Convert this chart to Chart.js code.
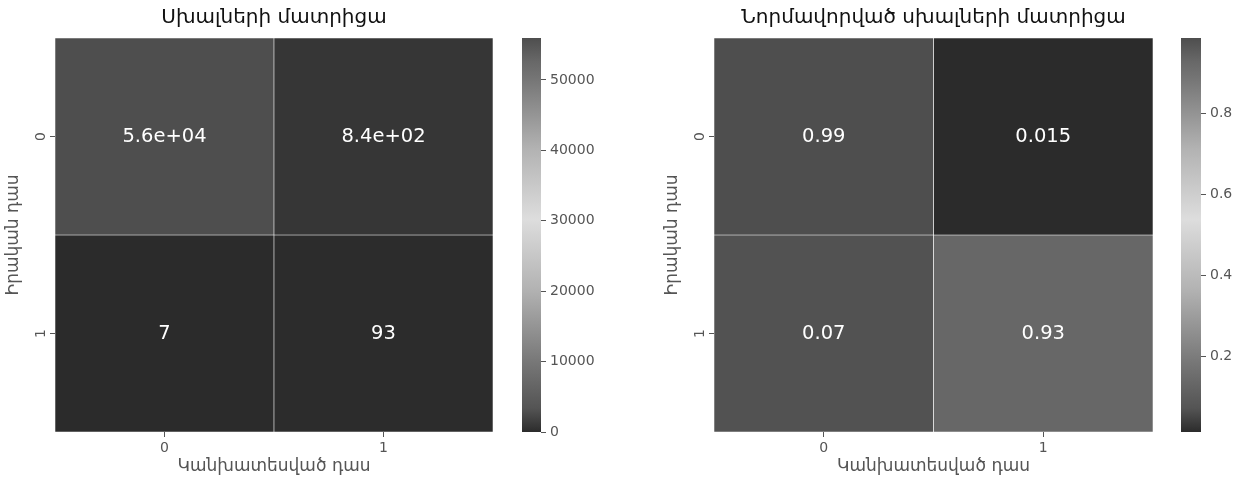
<!DOCTYPE html>
<html>
<head>
<meta charset="utf-8">
<script src="https://cdn.jsdelivr.net/npm/chart.js@4.4.0/dist/chart.umd.min.js"></script>
<style>
  body { margin: 0; background: #fff; width: 1246px; height: 479px; position: relative; overflow: hidden; }
  .box { position: absolute; top: 0; height: 479px; }
</style>
</head>
<body>
<div class="box" style="left:0;width:493px"><canvas id="heatCounts"></canvas></div>
<div class="box" style="left:522px;width:80px"><canvas id="barCounts"></canvas></div>
<div class="box" style="left:659px;width:494px"><canvas id="heatNorm"></canvas></div>
<div class="box" style="left:1181px;width:65px"><canvas id="barNorm"></canvas></div>
<script>
// Confusion matrices
const xLabels = ['0', '1'];
const yLabels = ['0', '1'];
const countValues = [[55960, 840], [7, 93]];
const normValues = [[0.9852, 0.0148], [0.07, 0.93]];
const countTicks = [0, 10000, 20000, 30000, 40000, 50000];
const normTicks = [0.2, 0.4, 0.6, 0.8];

const titleCounts = 'Սխալների մատրիցա';
const titleNorm = 'Նորմավորված սխալների մատրիցա';
const xTitle = 'Կանխատեսված դաս';
const yTitle = 'Իրական դաս';

// gray colormap: dark -> light -> dark
const GRAY_STOPS = [[0, 43], [0.015, 54], [0.06, 84], [0.18, 120], [0.36, 178], [0.54, 221],
                    [0.72, 178], [0.9, 116], [0.94, 104], [1, 78]];
const FONT = '"DejaVu Sans", sans-serif';
const TICK_COLOR = '#555';

function grayAt(t) {
    t = Math.max(0, Math.min(1, t));
    for (let i = 1; i < GRAY_STOPS.length; i++) {
        const [t1, g1] = GRAY_STOPS[i];
        const [t0, g0] = GRAY_STOPS[i - 1];
        if (t <= t1) {
            const g = Math.round(g0 + (g1 - g0) * (t - t0) / (t1 - t0));
            return `rgb(${g},${g},${g})`;
        }
    }
    return 'rgb(78,78,78)';
}

// like python's '.2g'
function fmtG(v) {
    const e = Math.floor(Math.log10(Math.abs(v)));
    if (e < -4 || e >= 2) {
        const [m, ex] = v.toExponential(1).split('e');
        return m + 'e' + ex[0] + ex.slice(1).padStart(2, '0');
    }
    let s = v.toPrecision(2);
    if (s.includes('.')) s = s.replace(/0+$/, '').replace(/\.$/, '');
    return s;
}

function cellLabels(values) {
    return {
        id: 'cellLabels',
        afterDatasetsDraw(chart) {
            const { ctx, scales } = chart;
            ctx.save();
            ctx.fillStyle = '#ffffff';
            ctx.font = '19.5px ' + FONT;
            ctx.textAlign = 'center';
            ctx.textBaseline = 'middle';
            values.forEach((row, r) => row.forEach((v, c) => {
                ctx.fillText(fmtG(v), scales.x.getPixelForValue(c), scales.y.getPixelForValue(r));
            }));
            ctx.restore();
        }
    };
}

function makeHeatmap(id, values, title) {
    const flat = values.flat();
    const vmin = Math.min(...flat);
    const vmax = Math.max(...flat);
    const datasets = values.map((row, r) => ({
        data: row.map(() => [r - 0.5, r + 0.5]),
        backgroundColor: row.map(v => grayAt((v - vmin) / (vmax - vmin))),
        borderColor: '#ffffff',
        borderWidth: 0.6,
        borderSkipped: false,
        barPercentage: 1,
        categoryPercentage: 1,
        grouped: false
    }));
    new Chart(document.getElementById(id), {
        type: 'bar',
        data: { labels: xLabels, datasets: datasets },
        plugins: [cellLabels(values)],
        options: {
            responsive: true,
            maintainAspectRatio: false,
            animation: false,
            layout: { padding: 0 },
            plugins: {
                legend: { display: false },
                tooltip: { enabled: false },
                title: {
                    display: true,
                    text: title,
                    fullSize: false,
                    color: '#111',
                    font: { family: FONT, size: 20, weight: 'normal' },
                    padding: { top: 6, bottom: 8 }
                }
            },
            scales: {
                x: {
                    type: 'category',
                    offset: true,
                    grid: { offset: false, drawOnChartArea: false, tickLength: 5, color: TICK_COLOR },
                    border: { display: false },
                    ticks: { color: TICK_COLOR, font: { family: FONT, size: 14 }, padding: 3 },
                    title: { display: true, text: xTitle, color: TICK_COLOR,
                             font: { family: FONT, size: 17 }, padding: { top: 0, bottom: 2 } },
                    afterFit: s => { s.height = 47; }
                },
                y: {
                    type: 'linear',
                    min: -0.5,
                    max: 1.5,
                    reverse: true,
                    afterBuildTicks: s => { s.ticks = yLabels.map((_, i) => ({ value: i })); },
                    grid: { drawOnChartArea: false, tickLength: 5, color: TICK_COLOR },
                    border: { display: false },
                    ticks: { color: TICK_COLOR, font: { family: FONT, size: 14 }, padding: 4,
                             minRotation: 90, maxRotation: 90, crossAlign: 'center',
                             callback: v => yLabels[v] },
                    title: { display: true, text: yTitle, color: TICK_COLOR,
                             font: { family: FONT, size: 17 }, padding: { top: 3, bottom: 0 } },
                    afterFit: s => { s.width = 55; }
                }
            }
        }
    });
}

function makeColorbar(id, values, tickValues, axisWidth) {
    const flat = values.flat();
    const vmin = Math.min(...flat);
    const vmax = Math.max(...flat);
    new Chart(document.getElementById(id), {
        type: 'bar',
        data: {
            labels: ['cb'],
            datasets: [{
                data: [[vmin, vmax]],
                backgroundColor: (ctx) => {
                    const area = ctx.chart.chartArea;
                    if (!area) return '#888';
                    const g = ctx.chart.ctx.createLinearGradient(0, area.bottom, 0, area.top);
                    GRAY_STOPS.forEach(([t, v]) => g.addColorStop(t, `rgb(${v},${v},${v})`));
                    return g;
                },
                borderWidth: 0,
                barPercentage: 1,
                categoryPercentage: 1
            }]
        },
        options: {
            responsive: true,
            maintainAspectRatio: false,
            animation: false,
            layout: { padding: { top: 38, bottom: 47, left: 0, right: 0 } },
            plugins: { legend: { display: false }, tooltip: { enabled: false } },
            scales: {
                x: { display: false },
                y: {
                    position: 'right',
                    min: vmin,
                    max: vmax,
                    afterBuildTicks: s => { s.ticks = tickValues.map(v => ({ value: v })); },
                    grid: { drawOnChartArea: false, tickLength: 5, color: TICK_COLOR },
                    border: { display: false },
                    ticks: { color: TICK_COLOR, font: { family: FONT, size: 14 }, padding: 4,
                             callback: v => String(v) },
                    afterFit: s => { s.width = axisWidth; }
                }
            }
        }
    });
}

makeHeatmap('heatCounts', countValues, titleCounts);
makeColorbar('barCounts', countValues, countTicks, 61);
makeHeatmap('heatNorm', normValues, titleNorm);
makeColorbar('barNorm', normValues, normTicks, 45);
</script>
</body>
</html>
